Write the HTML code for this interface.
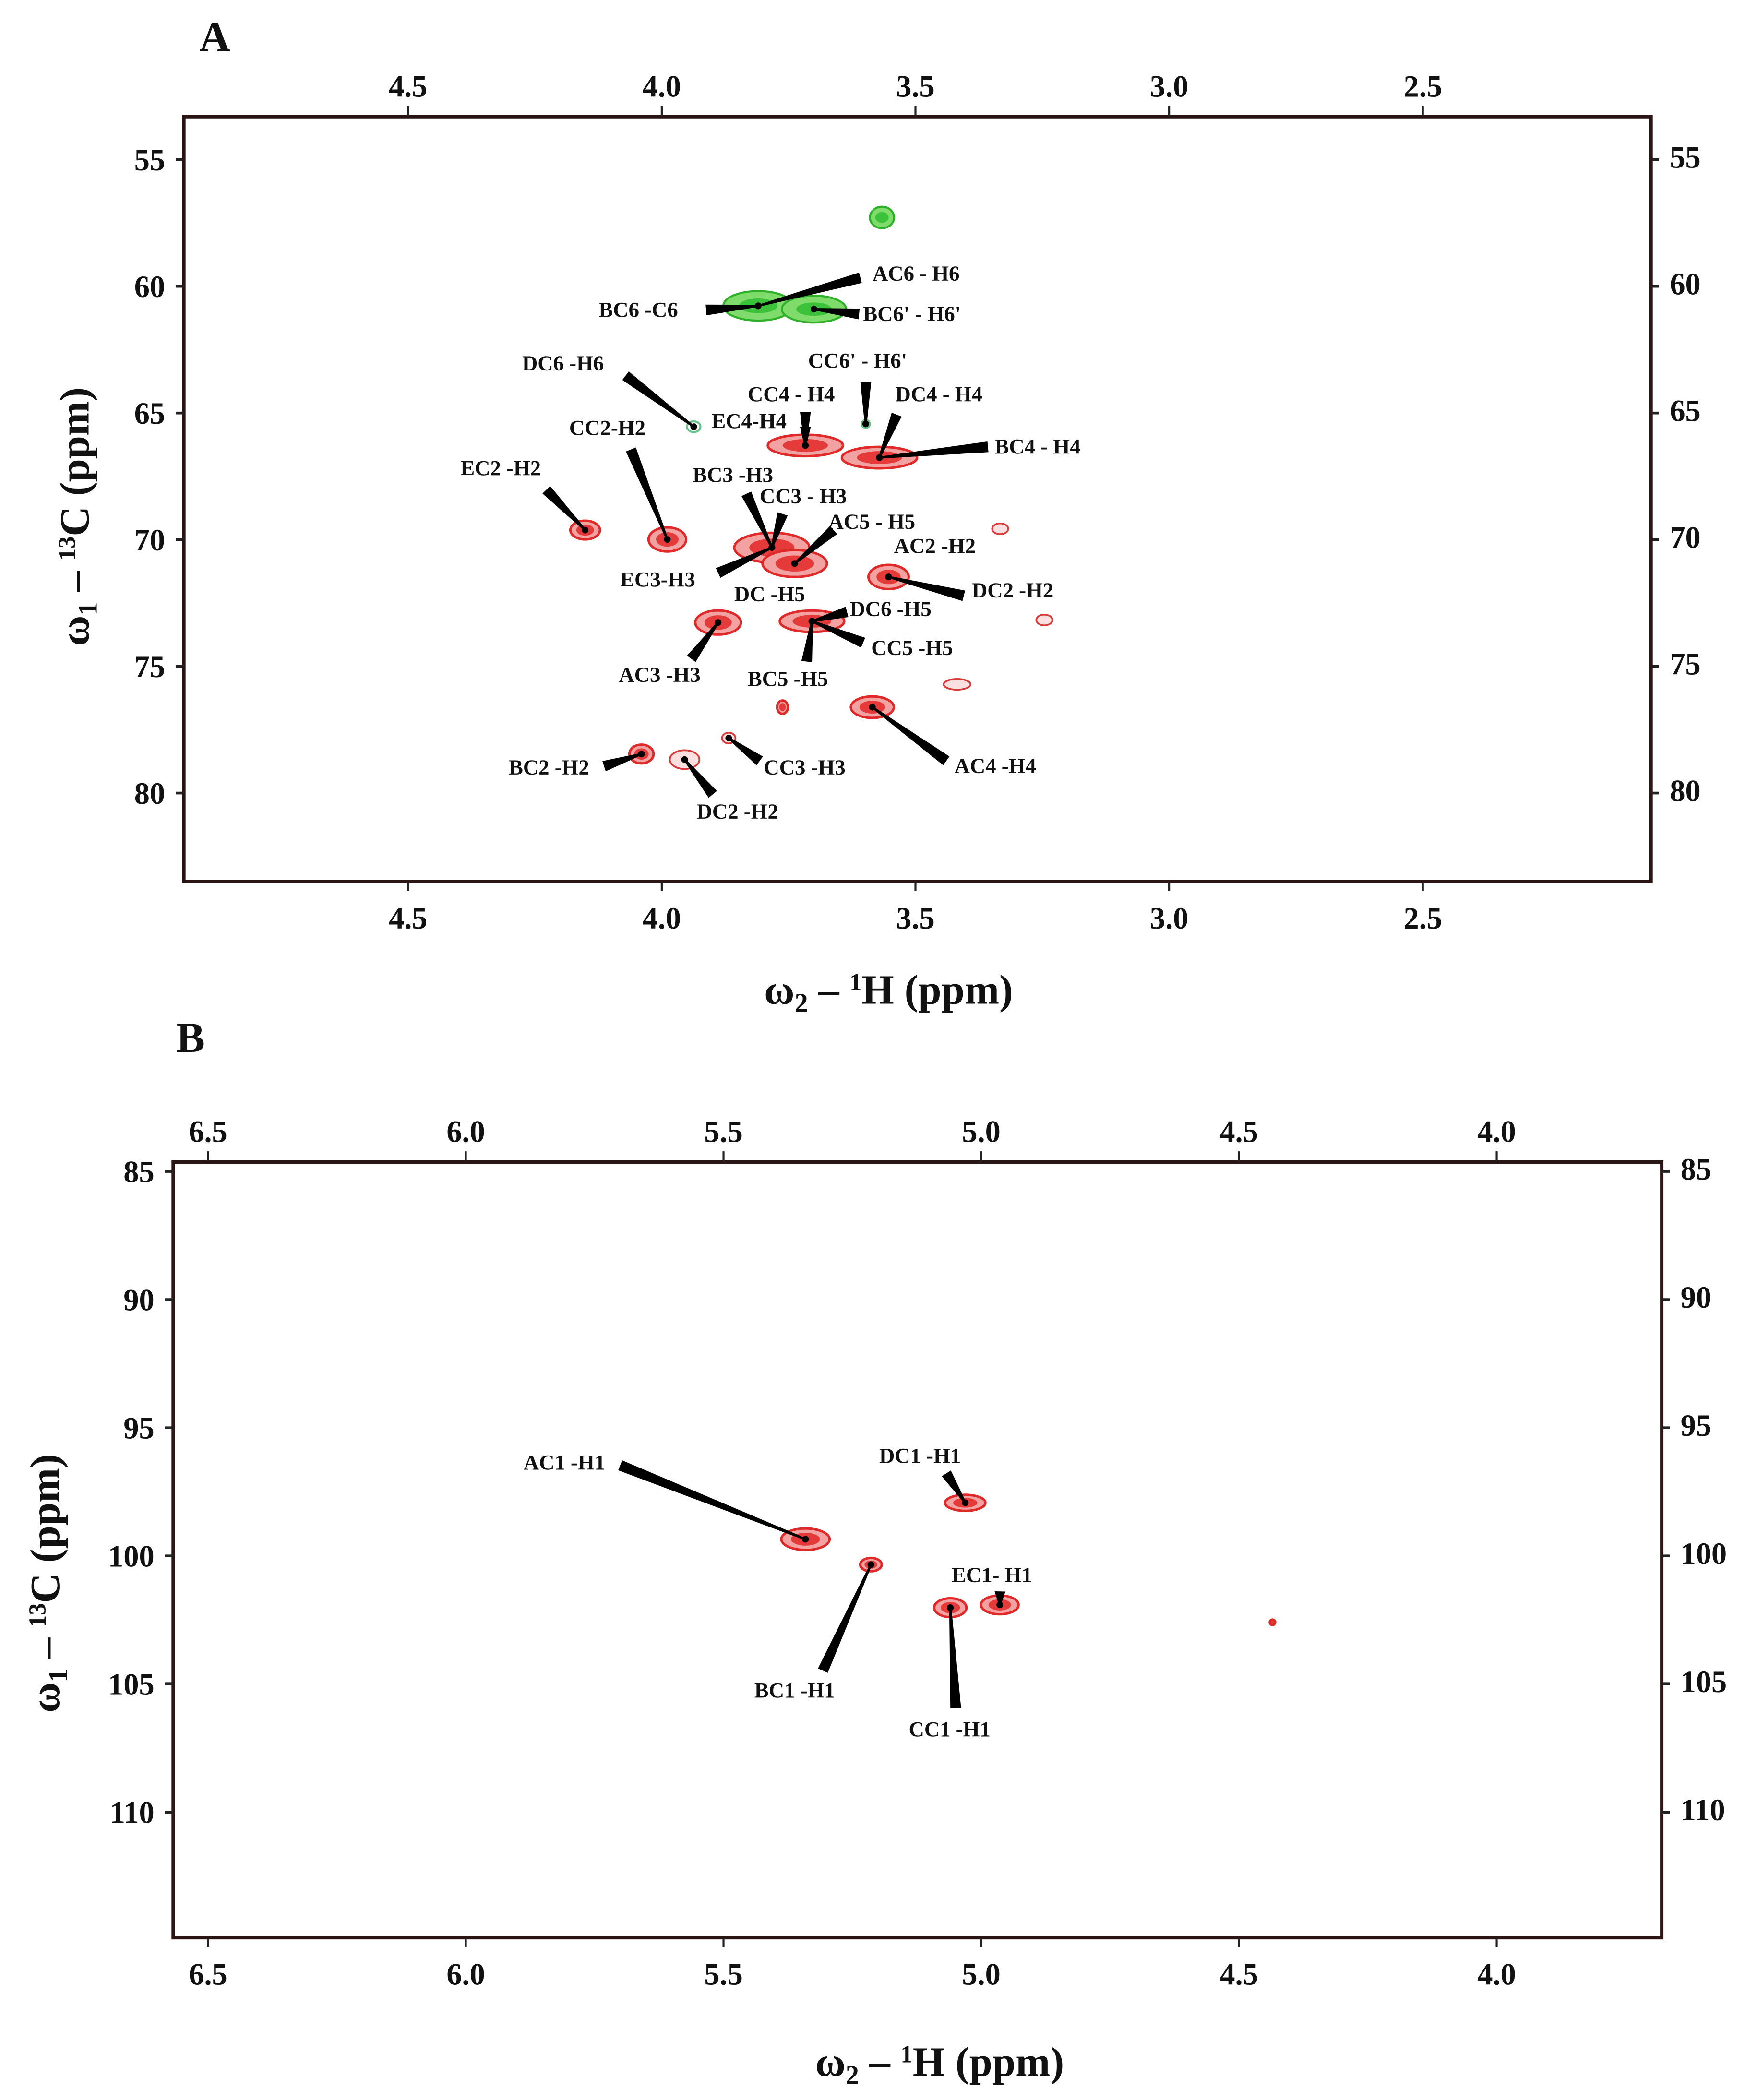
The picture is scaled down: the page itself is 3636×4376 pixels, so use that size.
<!DOCTYPE html>
<html><head><meta charset="utf-8"><style>
html,body{margin:0;padding:0;background:#fff}
svg{display:block}
text{font-family:"Liberation Serif",serif;font-weight:bold;fill:#111}
</style></head><body>
<svg id="fig" width="3636" height="4376" viewBox="0 0 1300 1565" preserveAspectRatio="none" xmlns="http://www.w3.org/2000/svg">
<rect x="0" y="0" width="1300" height="1565" fill="#fff"/>
</svg>
<script>
// Panel A data (ppm)
const aH = [3.566,3.81,3.937,3.598,4.151,3.989,3.889,4.040,3.955,3.868,3.762,3.585,3.717,3.571,3.783,3.738,3.553,3.704,3.333,3.246,3.418,3.70];
const aC = [57.28,60.77,65.54,65.43,69.62,69.99,73.27,78.46,78.68,77.83,76.61,76.61,66.28,66.76,70.31,70.94,71.47,73.22,69.57,73.17,75.71,60.9];
const aRx = [9,26,5,3,11,14,17,9,11,5,4,16,28,28,28,24,15,24,6,6,10,24];
const aRy = [8,11,4,3,7,9,9,7,7,4,5,8,8,8,11,10,9,8,4,4,4,10];
const aCol = ['g','g','go','go','r','r','r','r','ro','ro','r','r','r','r','r','r','r','r','ro','ro','ro','g'];
const aXTicks = [4.5,4.0,3.5,3.0,2.5];
const aYTicks = [55,60,65,70,75,80];
const aLabTxt = ['AC6 - H6','BC6 -C6','BC6\' - H6\'','DC6 -H6','CC6\' - H6\'','CC4 - H4','DC4 - H4','EC4-H4','BC4 - H4','CC2-H2','EC2 -H2','BC3 -H3','CC3 - H3','AC5 - H5','AC2 -H2','DC2 -H2','EC3-H3','DC -H5','DC6 -H5','CC5 -H5','AC3 -H3','BC5 -H5','AC4 -H4','BC2 -H2','CC3 -H3','DC2 -H2'];
const aLabPos = [[650,209],[446,236],[643,239],[389,276],[602,274],[557,299],[667,299],[530,319],[741,338],[424,324],[343,354],[516,359],[566,375],[617,394],[666,412],[724,445],[462,437],[547,448],[633,459],[649,488],[461,508],[557,511],[711,576],[379,577],[569,577],[519,610]];
const aLabFrom = [[641,207],[526,231],[640,234],[466,280],[645,285],[600,307],[668,309],[600,318],[736,333],[470,335],[407,365],[556,368],[583,383],[621,395],[0,0],[718,444],[535,427],[0,0],[631,456],[643,479],[515,491],[601,493],[705,567],[450,571],[566,567],[531,592]];
const aLabPeak = [1,1,21,2,3,12,13,12,13,5,4,14,14,15,-1,16,14,-1,17,17,6,17,11,7,9,8];
// Panel B data
const bH = [5.341,5.214,5.031,4.964,5.060,4.435];
const bC = [99.35,100.34,97.93,101.91,102.02,102.59];
const bRx = [18,8,15,14,12,2];
const bRy = [8,5,6,7,7,2];
const bXTicks = [6.5,6.0,5.5,5.0,4.5,4.0];
const bYTicks = [85,90,95,100,105,110];
const bLabTxt = ['AC1 -H1','BC1 -H1','DC1 -H1','EC1- H1','CC1 -H1'];
const bLabPos = [[390,1095],[562,1265],[655,1090],[709,1179],[677,1294]];
const bLabFrom = [[462,1092],[613,1245],[705,1098],[745,1186],[712,1273]];
const bLabPeak = [0,1,2,3,4];

const NS='http://www.w3.org/2000/svg';
const svg=document.getElementById('fig');
function mk(tag,attrs,parent){const e=document.createElementNS(NS,tag);for(const k in attrs)e.setAttribute(k,attrs[k]);(parent||svg).appendChild(e);return e;}

const axA={x:h=>304+(4.5-h)*378, y:c=>119+(c-55)*18.88, L:137,T:87,R:1230,B:657};
const axB={x:h=>155+(6.5-h)*384, y:c=>873+(c-85)*19.1, L:129,T:866,R:1238,B:1444};

function frame(ax,xt,yt,pfx){
  const g=mk('g',{});
  
  
  mk('rect',{x:ax.L,y:ax.T,width:ax.R-ax.L,height:ax.B-ax.T,fill:'none',stroke:'#2a1414','stroke-width':2.5},g);
  xt.forEach(v=>{
    const x=ax.x(v);
    mk('line',{x1:x,y1:ax.T,x2:x,y2:ax.T-8,stroke:'#222','stroke-width':1.5},g);
    mk('line',{x1:x,y1:ax.B,x2:x,y2:ax.B+7,stroke:'#222','stroke-width':1.5},g);
    const t1=mk('text',{x:x,y:ax.T-15,'text-anchor':'middle','font-size':23},g);t1.textContent=v.toFixed(1);
    
    const t2=mk('text',{x:x,y:ax.B+35,'text-anchor':'middle','font-size':23},g);t2.textContent=v.toFixed(1);
    
  });
  yt.forEach(v=>{
    const y=ax.y(v);
    mk('line',{x1:ax.L,y1:y,x2:ax.L-6,y2:y,stroke:'#222','stroke-width':2},g);
    mk('line',{x1:ax.R,y1:y,x2:ax.R+6,y2:y,stroke:'#222','stroke-width':2},g);
    const t1=mk('text',{x:ax.L-14,y:y+8,'text-anchor':'end','font-size':23},g);t1.textContent=v;
    
    const t2=mk('text',{x:ax.R+14,y:y+6,'text-anchor':'start','font-size':23},g);t2.textContent=v;
    
  });
}
function peak(x,y,rx,ry,col,name){
  const g=mk('g',{});
  
  
  if(col==='g'){
    mk('ellipse',{cx:x,cy:y,rx:rx,ry:ry,fill:'#7fdc6a',stroke:'#2fb02a','stroke-width':1.5},g);
    mk('ellipse',{cx:x,cy:y,rx:rx*0.55,ry:ry*0.5,fill:'#3cc23a'},g);
  }else if(col==='go'){
    mk('ellipse',{cx:x,cy:y,rx:rx,ry:ry,fill:'none',stroke:'#6ac08a','stroke-width':1.5},g);
  }else if(col==='ro'){
    mk('ellipse',{cx:x,cy:y,rx:rx,ry:ry,fill:'#fbe0e0',stroke:'#d93a3a','stroke-width':1.3},g);
  }else{
    mk('ellipse',{cx:x,cy:y,rx:rx,ry:ry,fill:'#f3a2a2',stroke:'#e02a2a','stroke-width':1.8},g);
    mk('ellipse',{cx:x,cy:y,rx:rx*0.6,ry:ry*0.6,fill:'#e53a3a'},g);
  }
}
function wedge(x1,y1,x2,y2,name){
  const dx=x2-x1,dy=y2-y1,l=Math.hypot(dx,dy)||1,nx=-dy/l,ny=dx/l,w=4,w2=0.8;
  const p=mk('polygon',{points:`${x1+nx*w},${y1+ny*w} ${x2+nx*w2},${y2+ny*w2} ${x2-nx*w2},${y2-ny*w2} ${x1-nx*w},${y1-ny*w}`,fill:'#000'});
  
  
  const c=mk('circle',{cx:x2,cy:y2,r:2.5,fill:'#000'});
  
  
}
function label(txt,x,y,name){
  const t=mk('text',{x:x,y:y,'font-size':16});t.textContent=txt;
  
  
}

frame(axA,aXTicks,aYTicks,'panel-a');
aH.forEach((h,i)=>peak(axA.x(h),axA.y(aC[i]),aRx[i],aRy[i],aCol[i],'panel-a-peak'));
aLabTxt.forEach((t,i)=>{
  label(t,aLabPos[i][0],aLabPos[i][1],'panel-a-peak-label');
  const k=aLabPeak[i];
  if(k>=0)wedge(aLabFrom[i][0],aLabFrom[i][1],axA.x(aH[k]),axA.y(aC[k]),'panel-a-leader-line');
});
frame(axB,bXTicks,bYTicks,'panel-b');
bH.forEach((h,i)=>peak(axB.x(h),axB.y(bC[i]),bRx[i],bRy[i],'r','panel-b-peak'));
bLabTxt.forEach((t,i)=>{
  label(t,bLabPos[i][0],bLabPos[i][1],'panel-b-peak-label');
  const k=bLabPeak[i];
  wedge(bLabFrom[i][0],bLabFrom[i][1],axB.x(bH[k]),axB.y(bC[k]),'panel-b-leader-line');
});

function title(txt,x,y,size,rot,name){
  const t=mk('text',{x:x,y:y,'font-size':size,'text-anchor':'middle'});
  if(rot)t.setAttribute('transform',`rotate(-90 ${x} ${y})`);
  t.innerHTML=txt;
  
  
}
title('A',160,38,32,false,'panel-a-letter');
title('B',142,784,32,false,'panel-b-letter');
title('ω<tspan font-size="20" dy="6">2</tspan><tspan dy="-6"> – </tspan><tspan font-size="18" dy="-10">1</tspan><tspan dy="10">H (ppm)</tspan>',662,748,31,false,'panel-a-x-axis-title');
title('ω<tspan font-size="20" dy="6">2</tspan><tspan dy="-6"> – </tspan><tspan font-size="18" dy="-10">1</tspan><tspan dy="10">H (ppm)</tspan>',700,1547,31,false,'panel-b-x-axis-title');
title('ω<tspan font-size="20" dy="6">1</tspan><tspan dy="-6"> – </tspan><tspan font-size="18" dy="-10">13</tspan><tspan dy="10">C (ppm)</tspan>',66,385,31,true,'panel-a-y-axis-title');
title('ω<tspan font-size="20" dy="6">1</tspan><tspan dy="-6"> – </tspan><tspan font-size="18" dy="-10">13</tspan><tspan dy="10">C (ppm)</tspan>',44,1180,31,true,'panel-b-y-axis-title');
</script>
</body></html>
